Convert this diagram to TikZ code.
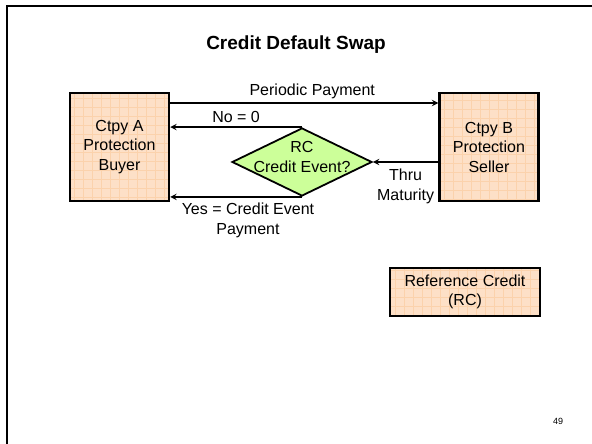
\documentclass[tikz,border=0pt]{standalone}
\usepackage{fontspec}
\setmainfont{Liberation Sans}
\usepackage{tikz}
\usetikzlibrary{arrows,shapes,positioning}
\usepackage{xcolor}
\definecolor{cdspeach}{RGB}{253,224,199}
\definecolor{cdsgrid}{RGB}{251,210,172}
\definecolor{cdsgreen}{RGB}{204,255,153}
\tikzstyle{party} = [rectangle, minimum width=99pt, minimum height=108pt, text centered, align=center, draw=black, line width=2.4pt, fill=cdspeach, path picture={\draw[cdsgrid, line width=0.5pt] ([shift={(-5pt,-5pt)}]path picture bounding box.south west) grid[step=9pt] ([shift={(5pt,5pt)}]path picture bounding box.north east);}]
\tikzstyle{decision} = [diamond, minimum width=140pt, minimum height=68pt, inner sep=0pt, draw=black, line width=1.8pt, fill=cdsgreen]
\tikzstyle{arrow} = [line width=1.8pt,->,>=stealth,color=black]

\begin{document}
\begin{tikzpicture}[x=1pt, y=1pt, node distance=369.5pt, font=\fontsize{16}{19.5}\selectfont]
\useasboundingbox (0,0) rectangle (592,-444);
% Slide frame and title
\draw[line width=2.5pt] (7,-444) -- (7,-6) -- (592,-6);
\node (title) at (296,-45) {\fontsize{19}{23}\selectfont\bfseries Credit Default Swap};

% Counterparties
\node (buyer) [party] at (119.5,-147) {Ctpy A\\Protection\\Buyer};
\node (seller) [party, right of=buyer] {Ctpy B\\Protection\\Seller};

% Credit event check
\node (event) [decision, right of=buyer, node distance=182.5pt, yshift=-15pt, label={[align=center, yshift=5pt]center:RC\\Credit Event?}] {};

% Reference credit
\node (refcredit) [party, minimum width=150pt, minimum height=48pt, below of=seller, node distance=145pt, xshift=-24pt] {Reference Credit\\(RC)};

% Arrows
\draw[arrow] ([yshift=44pt]buyer.east) -- node[above, xshift=8pt] {Periodic Payment} ([yshift=44pt]seller.west);
\draw[arrow] (event.north) -- node[above] {No = 0} (event.north -| buyer.east);
\draw[arrow] (event.south) -- node[below, pos=0.41, align=center, yshift=-2pt] {Yes = Credit Event\\Payment} (event.south -| buyer.east);
\draw[arrow] (event.east -| seller.west) -- node[below, align=center, yshift=-3pt] {Thru\\Maturity} (event.east);

% Page number
\node (pagenum) at (558,-421) {\fontsize{9}{11}\selectfont 49};
\end{tikzpicture}
\end{document}
